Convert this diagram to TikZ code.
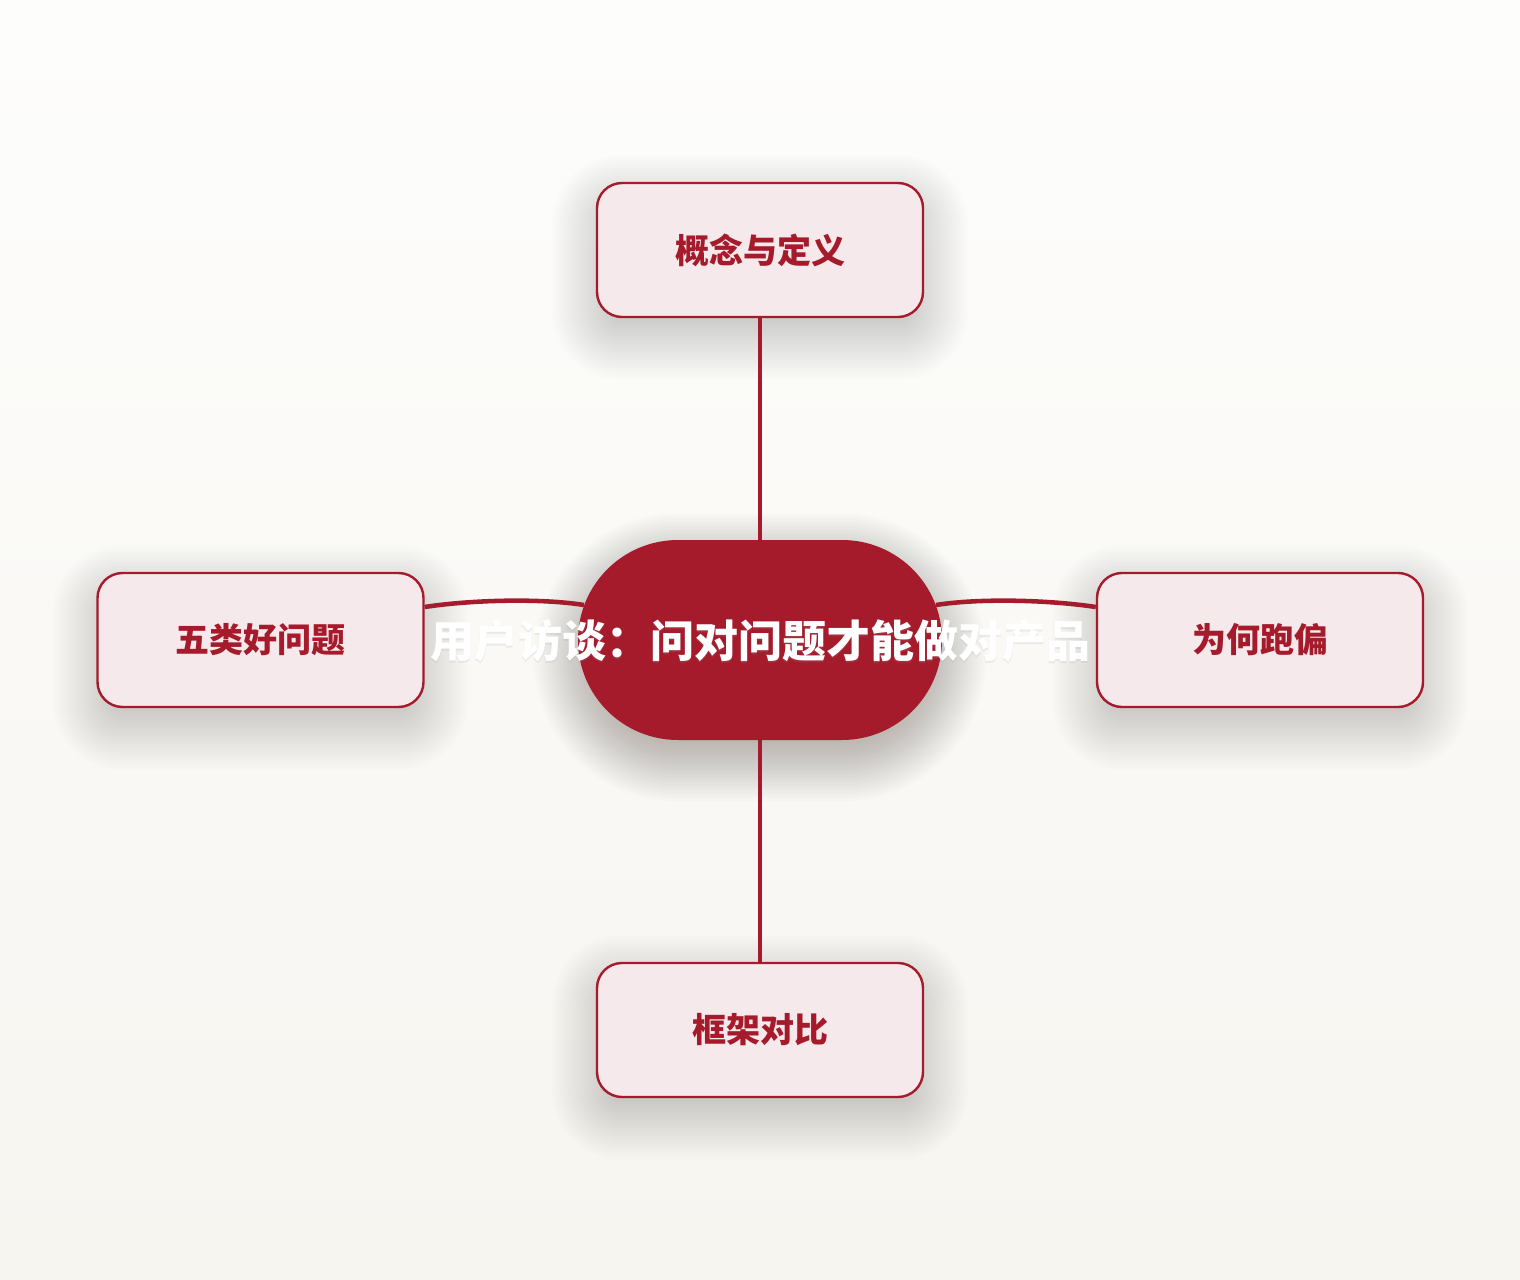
\documentclass[tikz,border=0pt]{standalone}
\usepackage{fontspec}
\newfontfamily\cjk{Noto Sans CJK SC}
\definecolor{mred}{HTML}{A51B2B}
\definecolor{mfill}{HTML}{F5E9EC}
\definecolor{bgtop}{HTML}{FDFDFC}
\definecolor{bgbot}{HTML}{F7F5F0}
\pgfdeclarelayer{bglayer}
\pgfdeclarelayer{shadowlayer}
\pgfsetlayers{bglayer,shadowlayer,main}
\newcommand\mysoftshadow[3]{%
  \begin{pgfonlayer}{shadowlayer}
  \foreach \s in {-15,-13,...,33}{%
    \pgfmathsetmacro\rr{max(#2+\s,1)}%
    \pgfmathsetmacro\lo{0-(\s)-13}%
    \pgfmathsetmacro\hi{\s-13}%
    \fill[black!80!brown, opacity=#3, rounded corners=\rr pt]
      ([xshift=0pt-\s pt, yshift=\lo pt]#1.south west) rectangle
      ([xshift=\s pt, yshift=\hi pt]#1.north east);
  }%
  \end{pgfonlayer}}
\tikzset{
  px/.style={x=0.75pt,y=-0.75pt},
  topic/.style={draw=mred, line width=1.8pt, fill=mfill, rounded corners=18.75pt,
    minimum width=244.5pt, minimum height=100.5pt, inner sep=0pt,
    font=\cjk\bfseries\fontsize{25.5}{30}\selectfont, text=mred},
  hub/.style={fill=mred, rounded corners=75pt, minimum width=273pt, minimum height=150pt, inner sep=0pt},
  hubtext/.style={text=white, inner sep=0pt, font=\cjk\bfseries\fontsize{33}{40}\selectfont},
  link/.style={draw=mred, line width=3.4pt}
}
\begin{document}
\begin{tikzpicture}[px]
\useasboundingbox (0,0) rectangle (1520,1280);
\begin{pgfonlayer}{bglayer}
\shade[top color=bgtop, bottom color=bgbot] (0,0) rectangle (1520,1280);
\end{pgfonlayer}
% nodes
\node[topic] (t) at (760,250) {概念与定义};
\node[topic] (l) at (260.5,640) {五类好问题};
\node[topic] (r) at (1260,640) {为何跑偏};
\node[topic] (b) at (760,1030) {框架对比};
\mysoftshadow{t}{18.75}{0.0085}
\mysoftshadow{l}{18.75}{0.0085}
\mysoftshadow{r}{18.75}{0.0085}
\mysoftshadow{b}{18.75}{0.0085}
\coordinate (cl) at (584,605);
\coordinate (cr) at (936,605);
% connectors
\draw[link] (t.south) -- (760,540) coordinate (ct);
\draw[link] (b.north) -- (760,740) coordinate (cb);
\draw[link] ([yshift=24.75pt]l.east) .. controls (470,600) and (540,598) .. (cl);
\draw[link] ([yshift=24.75pt]r.west) .. controls (1050,600) and (980,598) .. (cr);
% hub
\node[hub] (c) at (760,640) {};
\mysoftshadow{c}{75}{0.0105}
\node[hubtext, text=black!40, opacity=0.15] (cs) at (760,642.5) {用户访谈：问对问题才能做对产品};
\node[hubtext] (ctext) at (760,641) {用户访谈：问对问题才能做对产品};
\end{tikzpicture}
\end{document}
